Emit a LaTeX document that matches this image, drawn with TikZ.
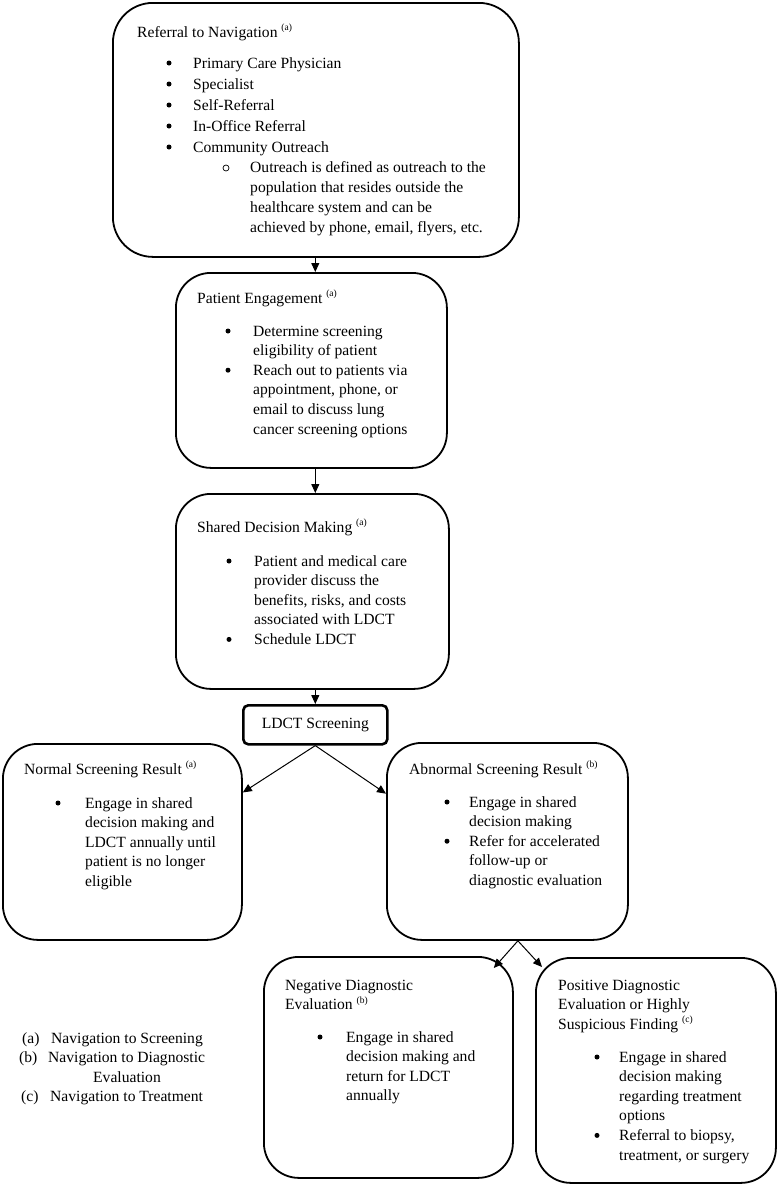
\documentclass[tikz,border=0pt]{standalone}
\usepackage{fontspec}
\setmainfont{Liberation Serif}
\usetikzlibrary{arrows.meta,calc}
\newcommand{\supnote}[1]{\raisebox{0.42em}{\fontsize{9.5}{10}\selectfont #1}}
\newcommand{\bodyfont}{\fontsize{15.6}{19.6}\selectfont}
\newcommand{\wideskip}{\fontsize{15.6}{21}\selectfont}
\newcommand{\subskip}{\fontsize{15.6}{20}\selectfont}
\newcommand{\blk}[1]{\parbox[t]{320pt}{\raggedright #1}}
\begin{document}
\begin{tikzpicture}[x=1pt,y=-1pt,
  box/.style={draw, line width=1.8pt, rounded corners=35pt, inner sep=0pt, anchor=north west},
  txt/.style={anchor=base west, inner sep=0pt, align=left, font=\bodyfont},
  bul/.style={circle, fill, inner sep=0pt, minimum size=5pt},
  subbul/.style={circle, draw, line width=0.7pt, inner sep=0pt, minimum size=6pt},
  arr/.style={line width=1pt, -{Triangle[length=9pt,width=8pt]}}]
\useasboundingbox (0,0) rectangle (777,1186);

% boxes
\node[box, rounded corners=40pt, minimum width=406pt, minimum height=254pt] (b1) at (112,2) {};
\node[box, minimum width=271pt, minimum height=195pt] (b2) at (175,272) {};
\node[box, minimum width=273pt, minimum height=195pt] (b3) at (175,493) {};
\node[draw, line width=2.6pt, rounded corners=5pt, minimum width=144pt, minimum height=39pt, anchor=north west, inner sep=0pt, font=\bodyfont] (ldct) at (242,704) {LDCT Screening};
\node[box, minimum width=239pt, minimum height=196pt] (nrm) at (2,743) {};
\node[box, minimum width=241pt, minimum height=197pt] (abn) at (386,742) {};
\node[box, minimum width=249pt, minimum height=221pt] (neg) at (263,956) {};
\node[box, minimum width=240pt, minimum height=225pt] (pos) at (535,957) {};

% box 1 text
\node[txt] (t1) at (137,37) {Referral to Navigation \supnote{(a)}};
\foreach \y [count=\i] in {68,89,110,131,152} \node[bul] (d1\i) at (169,\y-5) {};
\node[txt, font=\wideskip] (t1b) at (193,68) {\blk{Primary Care Physician\\Specialist\\Self-Referral\\In-Office Referral\\Community Outreach}};
\node[subbul] (o1) at (226,168) {};
\node[txt, font=\subskip] (t1s) at (250,172) {\blk{Outreach is defined as outreach to the\\population that resides outside the\\healthcare system and can be\\achieved by phone, email, flyers, etc.}};

% box 2 text
\node[txt] (t2) at (197,303) {Patient Engagement \supnote{(a)}};
\node[bul] (d21) at (228,331) {};
\node[bul] (d22) at (228,370.2) {};
\node[txt] (t2b) at (253,336) {\blk{Determine screening\\eligibility of patient\\Reach out to patients via\\appointment, phone, or\\email to discuss lung\\cancer screening options}};

% box 3 text
\node[txt] (t3) at (197,532) {Shared Decision Making \supnote{(a)}};
\node[bul] (d31) at (229,561) {};
\node[bul] (d32) at (229,639.4) {};
\node[txt] (t3b) at (254,566) {\blk{Patient and medical care\\provider discuss the\\benefits, risks, and costs\\associated with LDCT\\Schedule LDCT}};

% normal
\node[txt] (t4) at (24,774) {Normal Screening Result \supnote{(a)}};
\node[bul] (d41) at (58,803) {};
\node[txt] (t4b) at (85,808) {\blk{Engage in shared\\decision making and\\LDCT annually until\\patient is no longer\\eligible}};

% abnormal
\node[txt] (t5) at (409,774) {Abnormal Screening Result \supnote{(b)}};
\node[bul] (d51) at (447,802) {};
\node[bul] (d52) at (447,841.2) {};
\node[txt] (t5b) at (469,807) {\blk{Engage in shared\\decision making\\Refer for accelerated\\follow-up or\\diagnostic evaluation}};

% negative
\node[txt] (t6) at (285,990) {\blk{Negative Diagnostic\\Evaluation \supnote{(b)}}};
\node[bul] (d61) at (320,1037) {};
\node[txt] (t6b) at (346,1042) {\blk{Engage in shared\\decision making and\\return for LDCT\\annually}};

% positive
\node[txt] (t7) at (558,990) {\blk{Positive Diagnostic\\Evaluation or Highly\\Suspicious Finding \supnote{(c)}}};
\node[bul] (d71) at (597,1057) {};
\node[bul] (d72) at (597,1135.4) {};
\node[txt] (t7b) at (619,1062) {\blk{Engage in shared\\decision making\\regarding treatment\\options\\Referral to biopsy,\\treatment, or surgery}};

% legend
\node[txt] (la) at (22,1043) {(a)};
\node[txt] (lb) at (19,1062.6) {(b)};
\node[txt] (lc) at (21,1101.8) {(c)};
\node[txt] (lat) at (51,1043) {Navigation to Screening};
\node[txt] (lbt) at (48,1062.6) {Navigation to Diagnostic};
\node[anchor=base, inner sep=0pt, font=\bodyfont] (lbe) at (127,1082.2) {Evaluation};
\node[txt] (lct) at (50,1101.8) {Navigation to Treatment};

% connectors
\draw[arr] (b1.south -| ldct.south) -- (b2.north -| ldct.south);
\draw[arr] (b2.south -| ldct.south) -- (b3.north -| ldct.south);
\draw[arr] (b3.south -| ldct.south) -- (ldct.north);
\draw[arr] (ldct.south) -- ($(nrm.north east)!0.25!(nrm.south east)$);
\draw[arr] (ldct.south) -- ($(abn.north west)!0.26!(abn.south west)$);
\draw[arr] ($(abn.south)+(10.5,0)$) -- ($(neg.north east)+(-20,12)$);
\draw[arr] ($(abn.south)+(10.5,0)$) -- ($(pos.north west)+(7,10)$);
\end{tikzpicture}
\end{document}
